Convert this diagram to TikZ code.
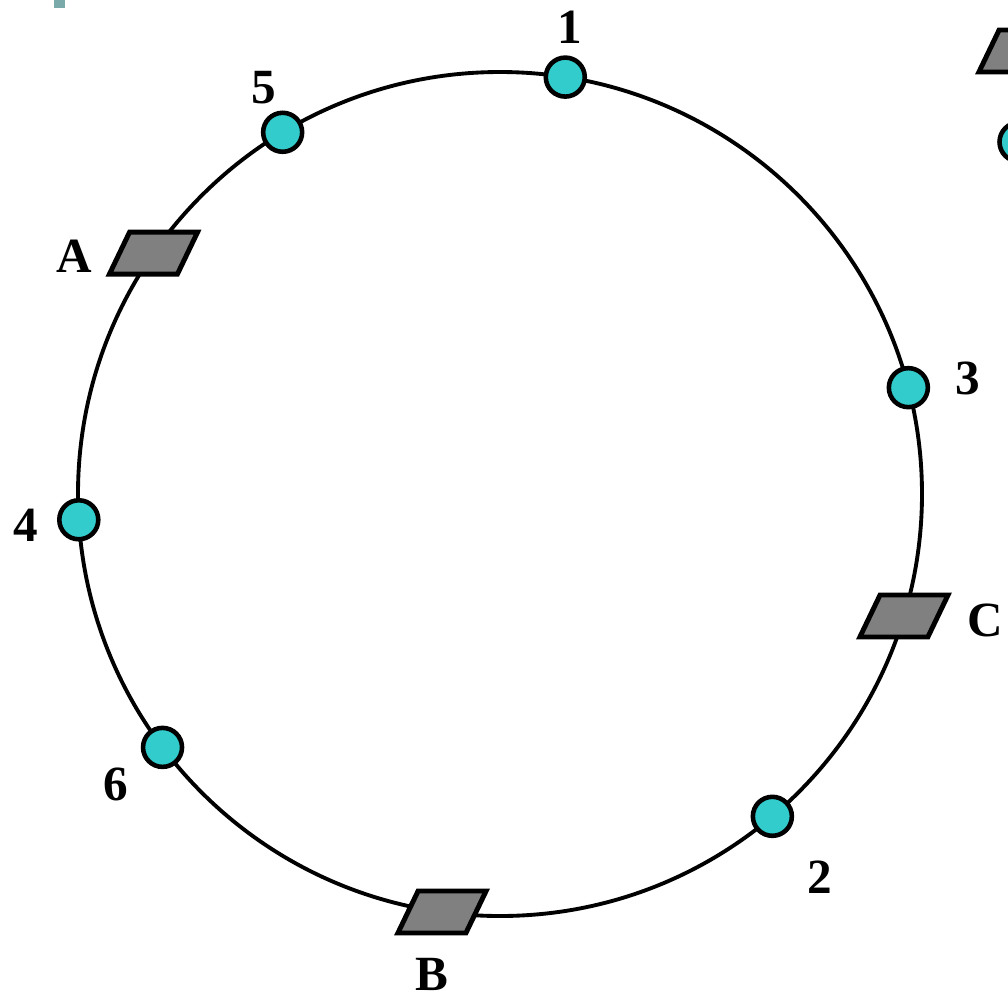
\documentclass[tikz,border=0pt]{standalone}
\usepackage{fontspec}
\setmainfont{Liberation Serif}
\definecolor{dotcyan}{RGB}{51,204,204}
\definecolor{boxgray}{RGB}{128,128,128}
\definecolor{markteal}{RGB}{122,170,170}

\begin{document}
\begin{tikzpicture}[
  ring/.style={line width=2.2pt},
  station/.style={circle,draw,line width=2.6pt,fill=dotcyan,minimum size=0.78cm,inner sep=0pt},
  bridge/.style={rectangle,draw,line width=2.8pt,fill=boxgray,minimum width=1.36cm,
    minimum height=0.84cm,inner sep=0pt,transform shape,xslant=0.48},
  lbl/.style={font=\bfseries\fontsize{28}{30}\selectfont,inner sep=0pt}]
\useasboundingbox (-10,-10.08) rectangle (10.16,9.88);
\fill[markteal] (-8.92,9.72) rectangle (-8.7,9.88);
\coordinate (O) at (0,0);
\draw[ring] (O) circle (8.44);
% stations on the ring
\node[station] (s1) at (81.1:8.44) {};
\node[station] (s5) at (121:8.44) {};
\node[station] (s4) at (183.5:8.44) {};
\node[station] (s6) at (216.9:8.44) {};
\node[station] (s2) at (310.2:8.44) {};
\node[station] (s3) at (14.6:8.44) {};
% bridges on the ring
\node[bridge] (bA) at (145.2:8.44) {};
\node[bridge] (bB) at (262.1:8.44) {};
\node[bridge] (bC) at (343.2:8.44) {};
% labels
\node[lbl] (l1) at (1.4,9.34) {1};
\node[lbl] (l5) at (-4.72,8.12) {5};
\node[lbl] (lA) at (-8.52,4.76) {A};
\node[lbl] (l4) at (-9.48,-0.62) {4};
\node[lbl] (l6) at (-7.68,-5.8) {6};
\node[lbl] (lB) at (-1.36,-9.6) {B};
\node[lbl] (l2) at (6.4,-7.66) {2};
\node[lbl] (lC) at (9.7,-2.52) {C};
\node[lbl] (l3) at (9.36,2.32) {3};
% cut-off legend
\node[bridge] (kB) at (10.46,8.86) {};
\node[station] (kS) at (10.38,7.04) {};
\end{tikzpicture}
\end{document}
